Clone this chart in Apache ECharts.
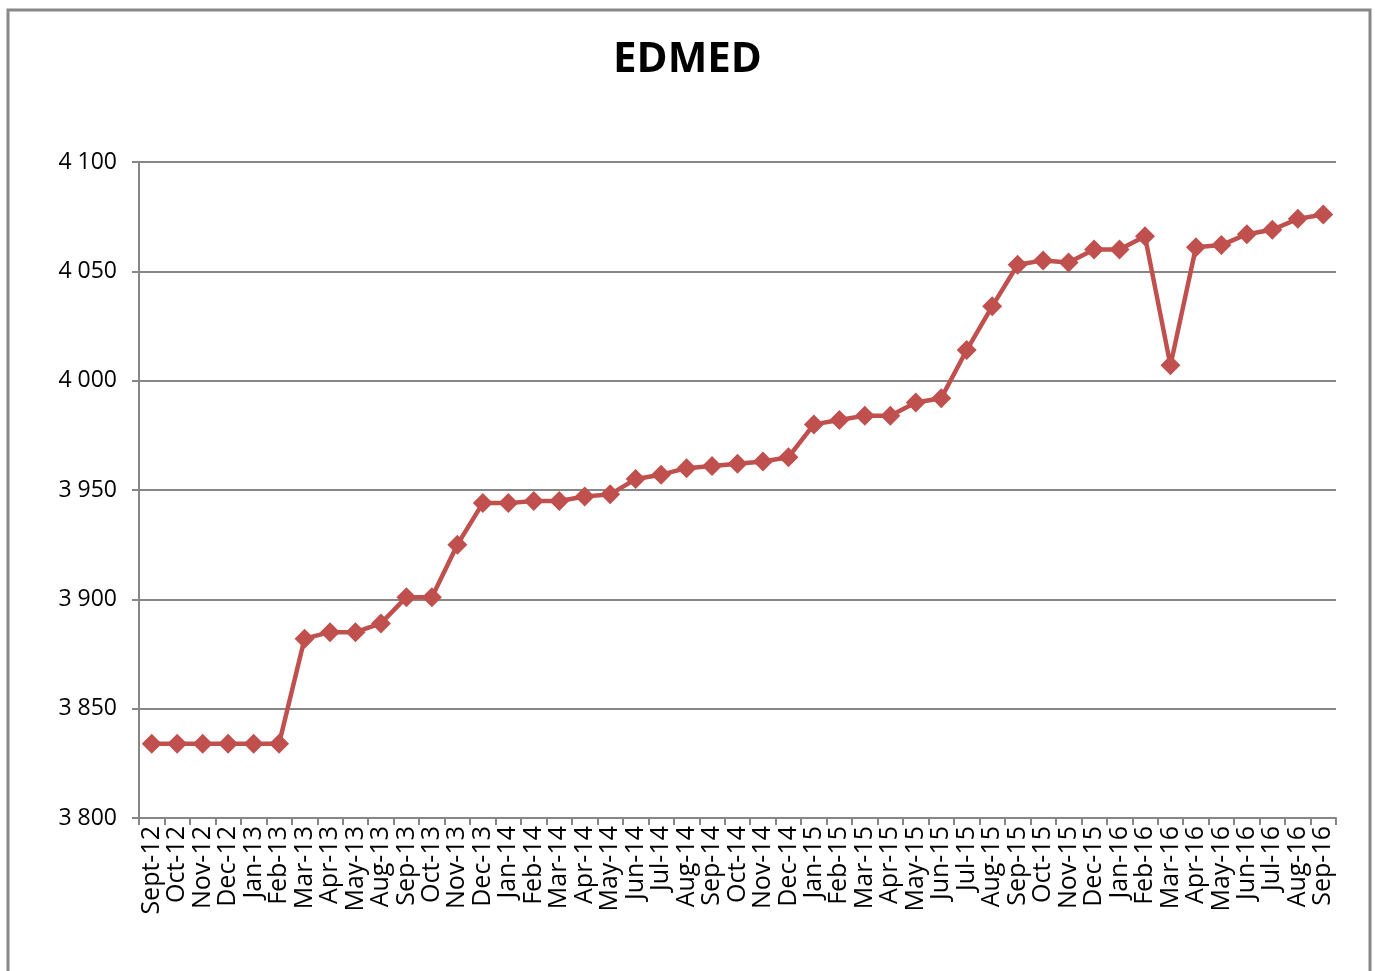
<!DOCTYPE html>
<html>
<head>
<meta charset="utf-8">
<script src="https://cdn.jsdelivr.net/npm/echarts@6/dist/echarts.min.js"></script>
<style>
  html, body { margin: 0; padding: 0; background: #fff; }
  #chart { width: 1375px; height: 971px; }
</style>
</head>
<body>
<div id="chart"></div>
<script>
// months on the x axis
const months = [
  'Sept-12', 'Oct-12', 'Nov-12', 'Dec-12', 'Jan-13', 'Feb-13', 'Mar-13', 'Apr-13',
  'May-13', 'Aug-13', 'Sep-13', 'Oct-13', 'Nov-13', 'Dec-13', 'Jan-14', 'Feb-14',
  'Mar-14', 'Apr-14', 'May-14', 'Jun-14', 'Jul-14', 'Aug-14', 'Sep-14', 'Oct-14',
  'Nov-14', 'Dec-14', 'Jan-15', 'Feb-15', 'Mar-15', 'Apr-15', 'May-15', 'Jun-15',
  'Jul-15', 'Aug-15', 'Sep-15', 'Oct-15', 'Nov-15', 'Dec-15', 'Jan-16', 'Feb-16',
  'Mar-16', 'Apr-16', 'May-16', 'Jun-16', 'Jul-16', 'Aug-16', 'Sep-16'
]
// EDMED values
const edmed = [
  3834, 3834, 3834, 3834, 3834, 3834, 3882, 3885,
  3885, 3889, 3901, 3901, 3925, 3944, 3944, 3945,
  3945, 3947, 3948, 3955, 3957, 3960, 3961, 3962,
  3963, 3965, 3980, 3982, 3984, 3984, 3990, 3992,
  4014, 4034, 4053, 4055, 4054, 4060, 4060, 4066,
  4007, 4061, 4062, 4067, 4069, 4074, 4076
]
const yMin = 3800
const yMax = 4100
const yStep = 50

const chart = echarts.init(document.getElementById('chart'))
chart.setOption({
  animation: false,
  textStyle: { fontFamily: 'Open Sans' },
  title: {
    text: 'EDMED',
    left: 'center',
    top: 34,
    textStyle: { fontSize: 42, fontWeight: 'bold', color: '#000', fontFamily: 'Open Sans' }
  },
  graphic: [{
    type: 'rect',
    shape: { x: 8, y: 10, width: 1362, height: 1000 },
    style: { fill: 'none', stroke: '#888', lineWidth: 3 }
  }],
  grid: { left: 139, right: 39, top: 162, bottom: 153 },
  xAxis: {
    type: 'category',
    data: months,
    boundaryGap: true,
    axisLine: { lineStyle: { color: '#868686', width: 2 } },
    axisTick: { show: true, alignWithLabel: false, length: 7, lineStyle: { color: '#868686', width: 2 } },
    axisLabel: { rotate: 90, interval: 0, fontSize: 25, color: '#000', margin: 8 }
  },
  yAxis: {
    type: 'value',
    min: yMin,
    max: yMax,
    interval: yStep,
    axisLine: { show: true, lineStyle: { color: '#868686', width: 2 } },
    axisTick: { show: true, length: 7, lineStyle: { color: '#868686', width: 2 } },
    splitLine: { lineStyle: { color: '#868686', width: 2 } },
    axisLabel: {
      fontSize: 23,
      color: '#000',
      margin: 22,
      formatter: v => String(v).replace(/\B(?=(\d{3})+(?!\d))/g, ' ')
    }
  },
  series: [{
    type: 'line',
    data: edmed,
    symbol: 'diamond',
    symbolSize: 20,
    lineStyle: { color: '#C0504D', width: 4.5 },
    itemStyle: { color: '#C0504D' }
  }]
})
</script>
</body>
</html>
